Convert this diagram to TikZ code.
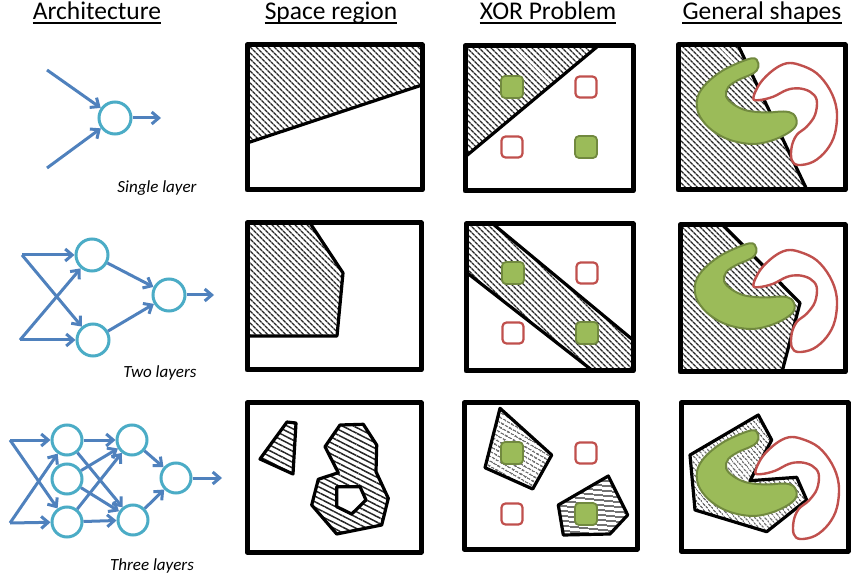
\documentclass[tikz,border=0pt]{standalone}
\usepackage{fontspec}
\setmainfont{Carlito}
\usetikzlibrary{patterns.meta,arrows.meta}
\definecolor{nblue}{HTML}{4F81BD}
\definecolor{ncyan}{HTML}{4BACC6}
\definecolor{ogreen}{HTML}{9BBB59}
\definecolor{dgreen}{HTML}{71893F}
\definecolor{ored}{HTML}{C0504D}
\begin{document}
\begin{tikzpicture}[x=1pt,y=-1pt,
 hdr/.style={font=\fontsize{25.5}{30}\selectfont, inner sep=0pt, anchor=base},
 ul/.style={line width=1.3pt},
 captext/.style={font=\fontsize{17}{20}\selectfont\itshape, inner sep=0pt, anchor=base},
 neuron/.style={circle, draw=ncyan, line width=3pt, minimum size=#1, inner sep=0pt, fill=white},
 neuron/.default=32pt,
 arr/.style={draw=nblue, line width=3pt, -{Straight Barb[length=7pt,width=12pt]}},
 frame/.style={line width=5pt, line join=round},
 edgeline/.style={line width=3.2pt, line join=round},
 hatch/.style={pattern={Lines[angle=#1,distance=4pt,line width=1.4pt]}, pattern color=black!85},
 hatch/.default=-45,
 widehatch/.style={pattern={Lines[angle=#1,distance=5pt,line width=1.5pt]}, pattern color=black!85},
 gsq/.style={fill=ogreen, draw=dgreen, line width=1.8pt, rounded corners=4pt, minimum size=22pt, inner sep=0pt},
 rsq/.style={fill=white, draw=ored, line width=2.2pt, rounded corners=4pt, minimum size=21pt, inner sep=0pt},
 gshape/.style={fill=ogreen, draw=dgreen, line width=2pt},
 rshape/.style={fill=white, draw=ored, line width=2.4pt},
 greenC/.pic={\draw[gshape] plot[smooth cycle, tension=0.6] coordinates {
   (73.7,13.3) (48.7,23.3) (32,35) (22,46.7) (18.7,58.3) (22,71.7) (33.7,85) (52,95)
   (75.3,99) (95.3,95) (112,86.7) (118.7,78.3) (115.3,69) (105.3,66.5) (88.7,67.5)
   (68.7,65.5) (55,59) (48,51) (50.3,42) (60.3,35) (72,30) (78.7,25.5) (80.3,18.3)};},
 redS/.pic={\draw[rshape] plot[smooth cycle, tension=0.6] coordinates {
   (75.3,53.3) (82,38.3) (95.3,25) (108.7,18.3) (122,20) (138.7,28.3) (152,45) (158.7,65)
   (157,88.3) (148.7,105) (135.3,116.7) (120.3,120) (113.7,115) (113.7,101.7) (118.7,90)
   (128.7,81.7) (137,70) (138.7,55) (132,46.7) (120.3,43.3) (108.7,45) (95.3,51.7) (82,55)};},
]
\useasboundingbox (0,0) rectangle (852,577);

% ---------- headers ----------
\node[hdr] (h1) at (97,20) {Architecture};
\node[hdr] (h2) at (331,20) {Space region};
\node[hdr] (h3) at (548,20) {XOR Problem};
\node[hdr] (h4) at (762,20) {General shapes};
\foreach \h in {h1,h2,h3,h4}
  \draw[ul] ([yshift=-3pt]\h.base west) -- ([yshift=-3pt]\h.base east);

% ---------- architecture row 1 ----------
\node[neuron] (s1) at (115,118) {};
\coordinate (sa) at (47,70);
\coordinate (sb) at (47,168);
\coordinate (sout) at (161,118);
\draw[arr] (sa) -- (s1);
\draw[arr] (sb) -- (s1);
\draw[arr] (s1) -- (sout);
\node[captext] (c1) at (157,193) {Single layer};

% ---------- architecture row 2 ----------
\node[neuron] (t1) at (92,255) {};
\node[neuron] (t2) at (93,340) {};
\node[neuron] (t3) at (169,295) {};
\coordinate (ta) at (22,255);
\coordinate (tb) at (20,340);
\coordinate (tout) at (214,295);
\draw[arr] (ta) -- (t1);
\draw[arr] (ta) -- (t2);
\draw[arr] (tb) -- (t1);
\draw[arr] (tb) -- (t2);
\draw[arr] (t1) -- (t3);
\draw[arr] (t2) -- (t3);
\draw[arr] (t3) -- (tout);
\node[captext] (c2) at (160,378) {Two layers};

% ---------- architecture row 3 ----------
\node[neuron=30pt] (u1) at (67,440) {};
\node[neuron=30pt] (u2) at (67,479) {};
\node[neuron=30pt] (u3) at (67,522) {};
\node[neuron=30pt] (v1) at (132,440) {};
\node[neuron=30pt] (v2) at (133,520) {};
\node[neuron=30pt] (w1) at (176,478) {};
\coordinate (ua) at (10,440);
\coordinate (ub) at (10,523);
\coordinate (uout) at (222,478);
\draw[arr] (ua) -- (u1);
\draw[arr] (ua) -- (u3);
\draw[arr] (ub) -- (u1);
\draw[arr] (ub) -- (u3);
\draw[arr] (u1) -- (v1);
\draw[arr] (u1) -- (v2);
\draw[arr] (u2) -- (v1);
\draw[arr] (u2) -- (v2);
\draw[arr] (u3) -- (v1);
\draw[arr] (u3) -- (v2);
\draw[arr] (v1) -- (w1);
\draw[arr] (v2) -- (w1);
\draw[arr] (w1) -- (uout);
\node[captext] (c3) at (152,570) {Three layers};

% ---------- Space region ----------
% row 1
\fill[hatch] (247,45) -- (422,45) -- (422,85) -- (247,143) -- cycle;
\draw[edgeline] (247,143) -- (422,85);
\draw[frame] (247,45) rectangle (422,190);
% row 2
\fill[hatch] (247,223) -- (310,223) -- (343,273) -- (337,336) -- (247,336) -- cycle;
\draw[edgeline] (310,223) -- (343,273) -- (337,336) -- (247,336);
\draw[frame] (247,223) rectangle (421,370);
% row 3
\draw[edgeline, widehatch=-27] (260,459) -- (287,422) -- (296,423) -- (293,474) -- cycle;
\draw[edgeline, widehatch=-27, even odd rule]
  (325,446.7) -- (340,425) -- (363.3,424.3) -- (376.7,445) -- (376,471.7) -- (388.3,498.3)
  -- (381.7,525) -- (336.7,534) -- (311.7,505) -- (318.3,479.3) -- (338.3,472.7) -- cycle
  (336.7,486.7) -- (360,486.7) -- (366,500) -- (351.7,514) -- (336.7,506.7) -- cycle;
\draw[frame] (247,403) rectangle (421,552);

% ---------- XOR problem ----------
% row 1
\fill[hatch] (465,46) -- (598,46) -- (465,157) -- cycle;
\draw[edgeline] (465,157) -- (598,46);
\node[gsq] (x1a) at (512,87) {};
\node[rsq] (x1b) at (586,87) {};
\node[rsq] (x1c) at (512,147) {};
\node[gsq] (x1d) at (586,147) {};
\draw[frame] (465,46) rectangle (633,191);
% row 2
\fill[hatch] (466,224) -- (493,224) -- (633,340) -- (633,371) -- (593,371) -- (466,272) -- cycle;
\draw[edgeline] (493,224) -- (633,340);
\draw[edgeline] (466,272) -- (593,371);
\node[gsq] (x2a) at (513,273) {};
\node[rsq] (x2b) at (587,273) {};
\node[rsq] (x2c) at (513,333) {};
\node[gsq] (x2d) at (587,333) {};
\draw[frame] (466,224) rectangle (633,371);
% row 3
\draw[edgeline, hatch=-30] (500,408.3) -- (551.7,455) -- (532.7,489) -- (485,467.7) -- cycle;
\draw[edgeline, hatch=-6] (558.3,505) -- (608.3,476) -- (627.7,515) -- (610,534) -- (563.3,535) -- cycle;
\node[gsq] (x3a) at (512,453) {};
\node[rsq] (x3b) at (586,453) {};
\node[rsq] (x3c) at (512,514) {};
\node[gsq] (x3d) at (586,514) {};
\draw[frame] (464,403) rectangle (637,549);

% ---------- General shapes ----------
% row 1
\fill[hatch] (678,45) -- (738,45) -- (807,190) -- (678,190) -- cycle;
\draw[edgeline] (738,45) -- (807,190);
\pic at (678,45) {greenC};
\pic at (678,45) {redS};
\draw[frame] (678,45) rectangle (845,190);
% row 2
\fill[hatch] (680,225) -- (723,225) -- (800,303) -- (782,372) -- (680,372) -- cycle;
\draw[edgeline] (723,225) -- (800,303) -- (782,372);
\pic at (676,230) {greenC};
\pic at (678,232) {redS};
\draw[frame] (680,225) rectangle (845,372);
% row 3
\draw[edgeline, hatch=-50] (690,455) -- (758.3,415) -- (771.7,440) -- (750,480.7) -- (796.7,477.3)
  -- (806.7,500) -- (766.7,531.7) -- (695,510) -- cycle;
\pic at (678,417) {greenC};
\pic at (680,419) {redS};
\draw[frame] (681,403) rectangle (848,551);
\end{tikzpicture}
\end{document}
